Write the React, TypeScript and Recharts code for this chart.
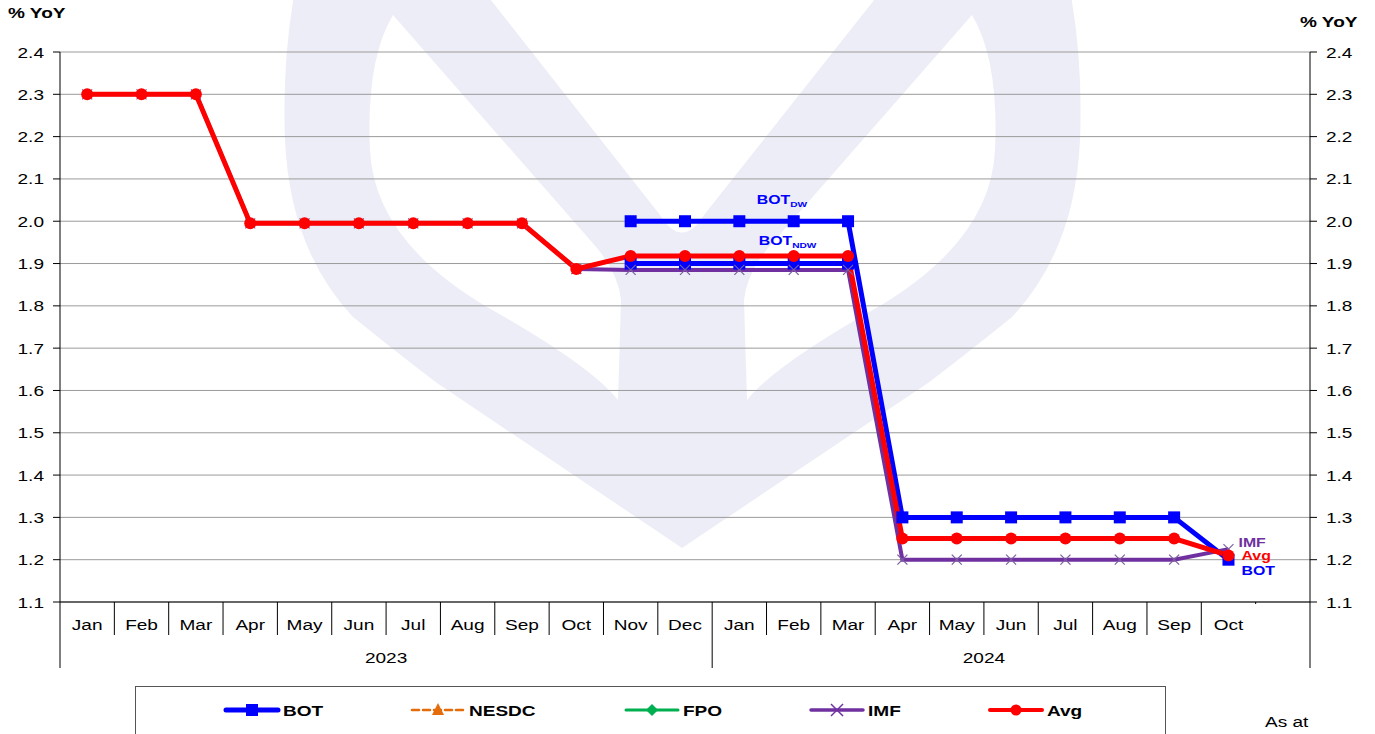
import React from 'react'
import { LineChart, Line, XAxis, YAxis, CartesianGrid } from 'recharts'

const months = ['Jan', 'Feb', 'Mar', 'Apr', 'May', 'Jun', 'Jul', 'Aug', 'Sep', 'Oct', 'Nov', 'Dec',
  'Jan', 'Feb', 'Mar', 'Apr', 'May', 'Jun', 'Jul', 'Aug', 'Sep', 'Oct', '']
const yearLabels = [
  { label: '2023', first: 0, last: 11 },
  { label: '2024', first: 12, last: 21 },
]
const yTicks = [1.1, 1.2, 1.3, 1.4, 1.5, 1.6, 1.7, 1.8, 1.9, 2.0, 2.1, 2.2, 2.3, 2.4]

const bot = [null, null, null, null, null, null, null, null, null, null,
  2.0, 2.0, 2.0, 2.0, 2.0, 1.3, 1.3, 1.3, 1.3, 1.3, 1.3, 1.2, null]
const botNdw = [null, null, null, null, null, null, null, null, null, null,
  1.9, 1.9, 1.9, 1.9, 1.9, null, null, null, null, null, null, null, null]
const nesdc: (number | null)[] = months.map(() => null)
const fpo: (number | null)[] = months.map(() => null)
const imf = [2.3, 2.3, 2.3, 1.995, 1.995, 1.995, 1.995, 1.995, 1.995, 1.887,
  1.885, 1.885, 1.885, 1.885, 1.885, 1.2, 1.2, 1.2, 1.2, 1.2, 1.2, 1.225, null]
const avg = [2.3, 2.3, 2.3, 1.995, 1.995, 1.995, 1.995, 1.995, 1.995, 1.887,
  1.918, 1.918, 1.918, 1.918, 1.918, 1.25, 1.25, 1.25, 1.25, 1.25, 1.25, 1.21, null]

const data = months.map((m, i) => ({
  i, m, bot: bot[i], botNdw: botNdw[i], nesdc: nesdc[i], fpo: fpo[i], imf: imf[i], avg: avg[i],
}))

const W = 1375
const H = 734
const FONT = '"Liberation Sans", Arial, sans-serif'
const SX = 1.27
const BLUE = '#0000ff'
const RED = '#ff0000'
const PURPLE = '#7030a0'
const ORANGE = '#e46c0a'
const GREEN = '#00b050'
const LEFT_W = 60
const RIGHT_W = 65
const BW = (W - LEFT_W - RIGHT_W) / months.length

// stretched text, the source picture is wider than it is tall
function ST({ x, y, children, anchor = 'start', size = 15, weight = 'normal', fill = '#000' }: any) {
  return (
    <text transform={`translate(${x},${y}) scale(${SX},1)`} textAnchor={anchor}
      fontSize={size} fontWeight={weight} fill={fill} fontFamily={FONT}>
      {children}
    </text>
  )
}

const ok = (p: any) => p.cx != null && p.cy != null && Number.isFinite(p.cy) && p.value != null

const squareDot = (p: any) => ok(p)
  ? <rect key={p.index} x={p.cx - 6} y={p.cy - 6} width={12} height={12} fill={BLUE} />
  : <g key={p.index} />
const circleDot = (p: any) => ok(p)
  ? <circle key={p.index} cx={p.cx} cy={p.cy} r={6} fill={RED} />
  : <g key={p.index} />
const crossDot = (p: any) => ok(p)
  ? <g key={p.index} stroke="#7a5fa0" strokeWidth={1.2}>
      <line x1={p.cx - 5} y1={p.cy - 5} x2={p.cx + 5} y2={p.cy + 5} />
      <line x1={p.cx - 5} y1={p.cy + 5} x2={p.cx + 5} y2={p.cy - 5} />
    </g>
  : <g key={p.index} />

const botLabel = (p: any) => {
  if (p.index === 13) return (
    <g key="dw">
      <ST x={p.x - 37} y={p.y - 17} size={12.5} weight="bold" fill={BLUE}>BOT<tspan fontSize={8} dy={3}>DW</tspan></ST>
    </g>
  )
  if (p.index === 21) return <g key="eb"><ST x={p.x + 13} y={p.y + 15} size={12.5} weight="bold" fill={BLUE}>BOT</ST></g>
  return <g key={p.index} />
}
const ndwLabel = (p: any) => p.index === 13
  ? <g key="ndw"><ST x={p.x - 35} y={p.y - 19} size={12.5} weight="bold" fill={BLUE}>BOT<tspan fontSize={8} dy={3}>NDW</tspan></ST></g>
  : <g key={p.index} />
const avgLabel = (p: any) => p.index === 21
  ? <g key="ea"><ST x={p.x + 13} y={p.y + 5} size={12.5} weight="bold" fill={RED}>Avg</ST></g>
  : <g key={p.index} />
const imfLabel = (p: any) => p.index === 21
  ? <g key="ei"><ST x={p.x + 10} y={p.y - 2} size={12.5} weight="bold" fill={PURPLE}>IMF</ST></g>
  : <g key={p.index} />

const MonthTick = (p: any) => {
  const i = p.payload.index
  const { x, y } = p
  const left = x - BW / 2
  const yr = yearLabels.find(g => Math.floor((g.first + g.last) / 2) === i)
  let yearX = x
  if (yr && (yr.last - yr.first) % 2 === 1) yearX = x + BW / 2
  const isLast = i === months.length - 1
  const longLeft = i === 0 || months[i] === 'Jan'
  return (
    <g>
      {months[i] && <ST x={x} y={y + 28} anchor="middle">{months[i]}</ST>}
      {i > 0 && !isLast && !longLeft && <line x1={left} y1={y} x2={left} y2={y + 33} stroke="#000" />}
      {isLast && <line x1={left} y1={y} x2={left} y2={y + 2} stroke="#000" />}
      {longLeft && <line x1={left} y1={y} x2={left} y2={y + 66} stroke="#000" />}
      {isLast && <line x1={x + BW / 2} y1={y} x2={x + BW / 2} y2={y + 66} stroke="#000" />}
      {yr && <ST x={yearX} y={y + 61} anchor="middle">{yr.label}</ST>}
    </g>
  )
}

const LeftTick = (p: any) => <g><ST x={p.x} y={p.y + 5.5} anchor="end">{Number(p.payload.value).toFixed(1)}</ST></g>
const RightTick = (p: any) => <g><ST x={p.x} y={p.y + 5.5}>{Number(p.payload.value).toFixed(1)}</ST></g>

const legendItems = [
  { name: 'BOT', x: 226, color: BLUE, mark: 'square', w: 5 },
  { name: 'NESDC', x: 412, color: ORANGE, mark: 'triangle', w: 2.5, dash: '7 4' },
  { name: 'FPO', x: 626, color: GREEN, mark: 'diamond', w: 3 },
  { name: 'IMF', x: 811, color: PURPLE, mark: 'cross', w: 3.5 },
  { name: 'Avg', x: 990, color: RED, mark: 'circle', w: 4 },
]

function LegendMark({ item }: any) {
  const cx = item.x + 26
  const cy = 710
  const c = item.color
  let m: any = null
  if (item.mark === 'square') m = <rect x={cx - 6} y={cy - 6} width={12} height={12} fill={c} />
  if (item.mark === 'triangle') m = <polygon points={`${cx},${cy - 7} ${cx + 6},${cy + 5} ${cx - 6},${cy + 5}`} fill={c} />
  if (item.mark === 'diamond') m = <polygon points={`${cx},${cy - 6} ${cx + 6},${cy} ${cx},${cy + 6} ${cx - 6},${cy}`} fill={c} />
  if (item.mark === 'cross') m = (
    <g stroke={c} strokeWidth={1.5}>
      <line x1={cx - 6} y1={cy - 6} x2={cx + 6} y2={cy + 6} />
      <line x1={cx - 6} y1={cy + 6} x2={cx + 6} y2={cy - 6} />
    </g>
  )
  if (item.mark === 'circle') m = <circle cx={cx} cy={cy} r={5.5} fill={c} />
  return (
    <g>
      <line x1={item.x} y1={cy} x2={item.x + 52} y2={cy} stroke={c} strokeWidth={item.w}
        strokeDasharray={item.dash} strokeLinecap="round" />
      {m}
      <ST x={item.x + 57} y={cy + 5.5} weight="bold">{item.name}</ST>
    </g>
  )
}

// watermark logo behind the plot
const OUTER = 'M 295 -10 Q 282 60 285 140 Q 290 250 353 317 Q 400 355 437 383 L 682 548 L 928 383 ' +
  'Q 965 355 1012 317 Q 1075 250 1080 140 Q 1083 60 1070 -10 Z'
const NOTCH = 'M 483 -10 L 660 215 Q 682 250 704 215 L 882 -10 Z'
const LOBE = 'M 393 15 Q 366 60 370 150 Q 374 240 487 307 Q 590 365 618 400 L 621 300 Q 618 270 590 240 Z'

function Background() {
  return (
    <svg width={W} height={H} style={{ position: 'absolute', left: 0, top: 0 }}>
      <path d={OUTER} fill="#ededf7" />
      <path d={NOTCH} fill="#fff" />
      <path d={LOBE} fill="#fff" />
      <path d={LOBE} fill="#fff" transform="translate(1365,0) scale(-1,1)" />
      <ST x={8} y={18} weight="bold">% YoY</ST>
      <ST x={1300} y={27} weight="bold">% YoY</ST>
      <rect x={135.5} y={686.5} width={1030} height={70} fill="none" stroke="#555" />
      {legendItems.map(it => <LegendMark key={it.name} item={it} />)}
      <ST x={1265} y={727}>As at</ST>
    </svg>
  )
}

export default function App() {
  return (
    <div style={{ position: 'absolute', left: 0, top: 0, width: W, height: H, overflow: 'hidden', background: '#fff' }}>
      <Background />
      <div style={{ position: 'absolute', left: 0, top: 0 }}>
        <LineChart width={W} height={H} data={data} margin={{ top: 52, right: 0, bottom: 0, left: 0 }}>
          <CartesianGrid vertical={false} stroke="#9a9a9a" strokeWidth={1} />
          <XAxis dataKey="i" interval={0} height={H - 602} tickLine={false} tickSize={0} tickMargin={0}
            padding={{ left: BW / 2, right: BW / 2 }}
            axisLine={{ stroke: '#000' }} tick={MonthTick} />
          <YAxis domain={[1.1, 2.4]} ticks={yTicks} width={LEFT_W} tickSize={7} tickMargin={9}
            axisLine={{ stroke: '#000' }} tickLine={{ stroke: '#000' }} tick={LeftTick} allowDataOverflow />
          <YAxis yAxisId="r" orientation="right" domain={[1.1, 2.4]} ticks={yTicks} width={RIGHT_W}
            tickSize={7} tickMargin={9} axisLine={{ stroke: '#000' }} tickLine={{ stroke: '#000' }} tick={RightTick} allowDataOverflow />
          <Line dataKey="nesdc" stroke={ORANGE} strokeDasharray="7 4" strokeWidth={2.5} dot={false} isAnimationActive={false} />
          <Line dataKey="fpo" stroke={GREEN} strokeWidth={3} dot={false} isAnimationActive={false} />
          <Line dataKey="botNdw" stroke={BLUE} strokeWidth={5} dot={squareDot} label={ndwLabel} isAnimationActive={false} />
          <Line dataKey="bot" stroke={BLUE} strokeWidth={5} dot={squareDot} label={botLabel} isAnimationActive={false} />
          <Line dataKey="imf" stroke={PURPLE} strokeWidth={4} dot={crossDot} label={imfLabel} isAnimationActive={false} />
          <Line dataKey="avg" stroke={RED} strokeWidth={5} dot={circleDot} label={avgLabel} isAnimationActive={false} />
        </LineChart>
      </div>
    </div>
  )
}
